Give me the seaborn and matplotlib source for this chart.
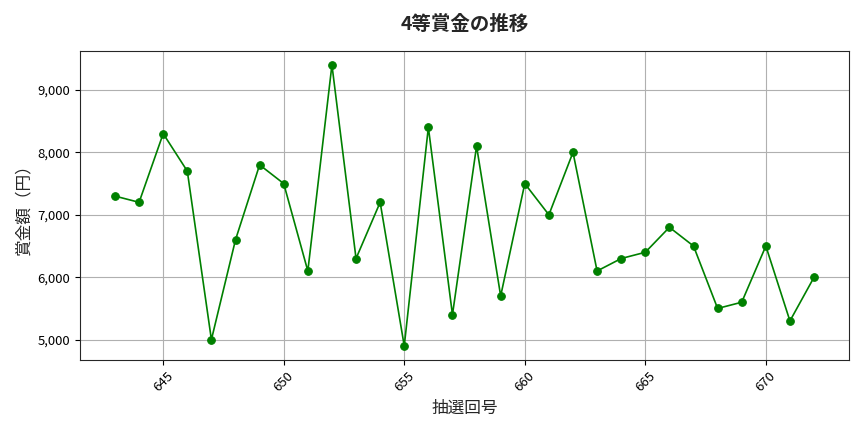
import numpy as np
import pandas as pd
import seaborn as sns
import matplotlib.pyplot as plt
from matplotlib.ticker import FuncFormatter

sns.set_style('ticks')
plt.rcParams['font.family'] = ['Noto Sans CJK JP', 'DejaVu Sans']

draws = list(range(643, 673))
prizes = [7300, 7200, 8300, 7700, 5000, 6600, 7800, 7500, 6100, 9400,
          6300, 7200, 4900, 8400, 5400, 8100, 5700, 7500, 7000, 8000,
          6100, 6300, 6400, 6800, 6500, 5500, 5600, 6500, 5300, 6000]

df = pd.DataFrame({'draw': draws, 'prize': prizes})

fig, ax = plt.subplots(figsize=(8.64, 4.32), dpi=100)
sns.lineplot(data=df, x='draw', y='prize', ax=ax,
             color='green', marker='o', markersize=5.5,
             markeredgecolor='green', linewidth=1.2)

ax.grid(True, color='#b0b0b0', linewidth=0.8)
ax.yaxis.set_major_formatter(FuncFormatter(lambda v, p: f'{int(v):,}'))
plt.setp(ax.get_xticklabels(), rotation=45)
ax.tick_params(labelsize=9.5, colors='black')

ax.set_title('4等賞金の推移', fontsize=14, fontweight='bold', pad=15)
ax.set_xlabel('抽選回号', fontsize=12)
ax.set_ylabel('賞金額（円）', fontsize=12)

plt.tight_layout()
plt.savefig('out.png', dpi=100)
